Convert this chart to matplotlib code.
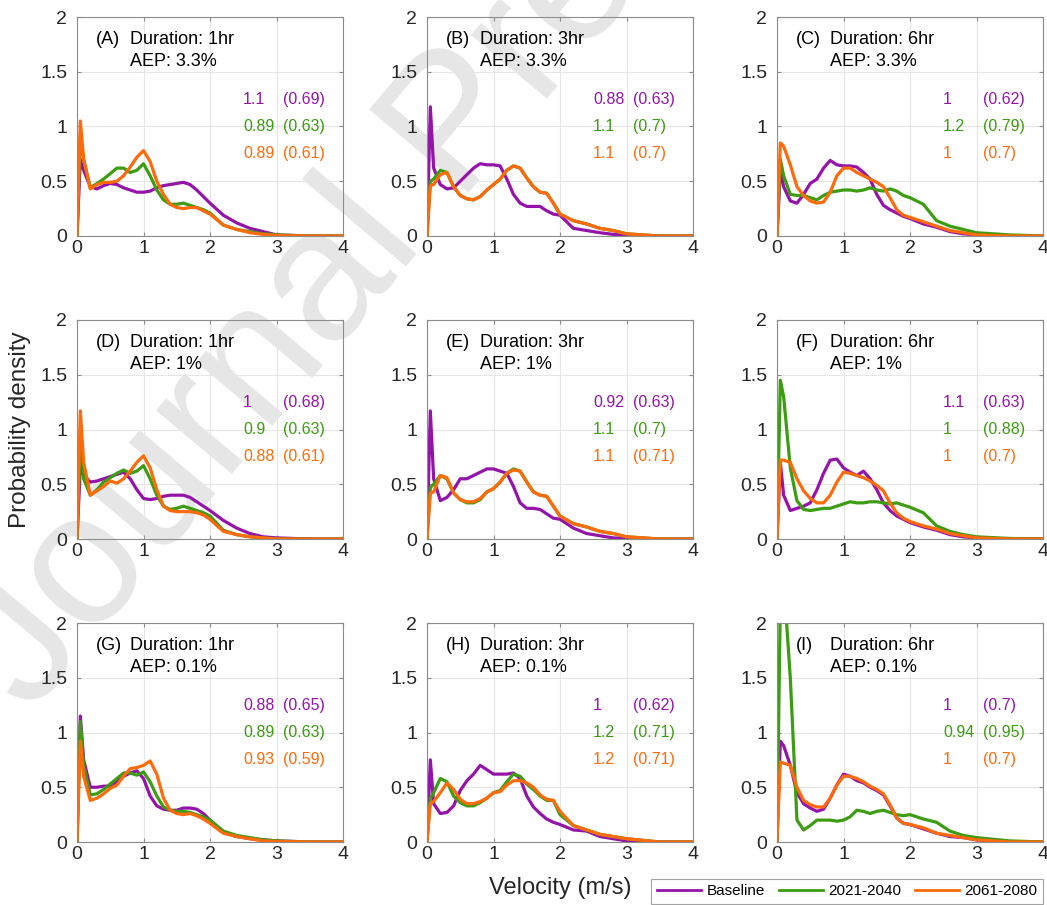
import matplotlib
matplotlib.use("Agg")
import matplotlib.pyplot as plt
from matplotlib.lines import Line2D

plt.rcParams.update({
    "font.family": ["Liberation Sans", "DejaVu Sans"],
    "axes.edgecolor": "#8c8c8c",
    "axes.linewidth": 0.8,
    "xtick.color": "#8c8c8c",
    "ytick.color": "#8c8c8c",
    "xtick.labelcolor": "#262626",
    "ytick.labelcolor": "#262626",
})

PURPLE = "#9414aa"
GREEN = "#3c9c12"
ORANGE = "#ff6a0a"

# velocity grid (m/s) shared by all curves
VEL = [0, 0.05, 0.1, 0.2, 0.3, 0.4, 0.5, 0.6, 0.7, 0.8, 0.9, 1.0, 1.1, 1.2, 1.3,
       1.4, 1.5, 1.6, 1.7, 1.8, 1.9, 2.0, 2.2, 2.4, 2.6, 2.8, 3.0, 3.5, 4.0]

# (A) 1hr, AEP 3.3%
A_BASE = [0, .70, .60, .45, .43, .46, .48, .47, .44, .42, .40, .40, .41, .44, .46,
          .47, .48, .49, .47, .42, .36, .30, .19, .12, .07, .04, .01, 0, 0]
A_2021 = [0, .92, .70, .44, .48, .52, .57, .62, .62, .58, .60, .66, .55, .42, .33,
          .29, .29, .30, .28, .26, .24, .21, .10, .06, .04, .02, .01, 0, 0]
A_2061 = [0, 1.05, .70, .43, .47, .49, .49, .50, .55, .63, .72, .78, .68, .50, .38,
          .29, .26, .25, .26, .26, .23, .20, .10, .06, .03, .015, .005, 0, 0]
# (B) 3hr, AEP 3.3%
B_BASE = [0, 1.18, .62, .47, .43, .44, .50, .56, .62, .66, .65, .65, .64, .52, .38,
          .30, .27, .27, .27, .23, .20, .19, .07, .05, .03, .015, .005, 0, 0]
B_2021 = [0, .50, .52, .60, .58, .45, .37, .34, .33, .36, .42, .47, .52, .60, .64,
          .62, .53, .45, .40, .39, .30, .20, .14, .11, .07, .05, .02, 0, 0]
B_2061 = [0, .46, .47, .56, .58, .45, .37, .34, .33, .36, .42, .47, .52, .60, .64,
          .62, .53, .45, .40, .39, .30, .20, .14, .11, .07, .05, .02, 0, 0]
# (C) 6hr, AEP 3.3%
C_BASE = [0, .60, .45, .32, .30, .38, .48, .52, .62, .69, .65, .64, .64, .63, .58,
          .52, .38, .28, .24, .21, .18, .16, .11, .08, .04, .02, .01, 0, 0]
C_2021 = [0, .70, .55, .38, .37, .37, .35, .33, .37, .40, .41, .42, .42, .41, .42,
          .44, .42, .41, .43, .41, .37, .35, .29, .14, .09, .06, .03, .01, 0]
C_2061 = [0, .85, .82, .65, .45, .37, .32, .30, .31, .40, .55, .62, .62, .58, .55,
          .52, .49, .45, .35, .24, .19, .17, .13, .09, .05, .03, .01, 0, 0]
# (D) 1hr, AEP 1%
D_BASE = [0, .66, .58, .52, .53, .55, .57, .59, .61, .55, .45, .37, .36, .37, .39,
          .40, .40, .40, .38, .34, .30, .26, .17, .10, .05, .02, .01, 0, 0]
D_2021 = [0, .92, .55, .40, .45, .52, .56, .60, .63, .60, .62, .67, .55, .40, .30,
          .27, .28, .30, .28, .26, .24, .21, .08, .04, .02, .01, 0, 0, 0]
D_2061 = [0, 1.17, .70, .40, .44, .48, .53, .51, .55, .62, .70, .76, .65, .45, .30,
          .26, .25, .25, .25, .24, .22, .18, .07, .04, .02, .01, 0, 0, 0]
# (E) 3hr, AEP 1%
E_BASE = [0, 1.17, .55, .35, .38, .45, .55, .55, .58, .61, .64, .64, .62, .60, .48,
          .33, .28, .28, .27, .23, .19, .18, .10, .05, .03, .01, .005, 0, 0]
E_2021 = [0, .47, .50, .58, .55, .42, .36, .33, .33, .36, .43, .46, .52, .60, .64,
          .62, .52, .43, .40, .39, .30, .21, .14, .11, .07, .05, .02, 0, 0]
E_2061 = [0, .42, .43, .58, .56, .42, .36, .34, .34, .37, .43, .46, .52, .60, .63,
          .62, .52, .43, .40, .39, .30, .21, .14, .11, .07, .05, .02, 0, 0]
# (F) 6hr, AEP 1%
F_BASE = [0, .70, .40, .26, .28, .30, .33, .45, .60, .72, .73, .65, .61, .58, .62,
          .55, .45, .33, .26, .21, .18, .15, .11, .08, .04, .02, .01, 0, 0]
F_2021 = [0, 1.45, 1.30, .65, .35, .27, .26, .27, .28, .28, .30, .32, .34, .33, .33,
          .34, .34, .33, .32, .33, .31, .29, .24, .12, .07, .04, .02, .005, 0]
F_2061 = [0, .72, .72, .70, .55, .44, .37, .33, .33, .40, .52, .61, .60, .58, .56,
          .53, .49, .44, .33, .24, .19, .16, .12, .09, .05, .03, .01, 0, 0]
# (G) 1hr, AEP 0.1%
G_BASE = [0, 1.15, .75, .50, .50, .51, .51, .55, .60, .63, .65, .58, .42, .33, .30,
          .29, .29, .31, .31, .30, .26, .20, .09, .05, .03, .02, .01, 0, 0]
G_2021 = [0, 1.10, .70, .43, .44, .48, .53, .58, .63, .63, .61, .64, .55, .42, .32,
          .29, .28, .28, .27, .25, .23, .20, .10, .06, .04, .02, .01, 0, 0]
G_2061 = [0, .92, .60, .38, .40, .44, .49, .52, .60, .67, .68, .70, .74, .62, .40,
          .29, .26, .25, .26, .24, .21, .17, .08, .05, .03, .01, .005, 0, 0]
# (H) 3hr, AEP 0.1%
H_BASE = [0, .75, .35, .26, .27, .33, .47, .56, .62, .70, .66, .62, .62, .62, .63,
          .58, .42, .32, .26, .21, .18, .16, .11, .10, .05, .03, .01, 0, 0]
H_2021 = [0, .40, .45, .58, .55, .42, .36, .33, .33, .36, .40, .45, .47, .55, .62,
          .60, .53, .48, .42, .38, .38, .25, .15, .11, .07, .05, .03, 0, 0]
H_2061 = [0, .35, .37, .45, .54, .48, .39, .35, .35, .37, .40, .45, .46, .52, .56,
          .56, .54, .50, .43, .39, .38, .28, .15, .11, .07, .05, .03, 0, 0]
# (I) 6hr, AEP 0.1%
I_BASE = [0, .92, .88, .70, .45, .35, .31, .28, .30, .40, .52, .62, .60, .56, .54,
          .50, .47, .43, .33, .22, .17, .16, .12, .08, .05, .04, .02, 0, 0]
I_2021 = [0, 2.20, 2.40, 1.50, .20, .11, .15, .20, .20, .20, .19, .20, .23, .29, .28,
          .26, .28, .29, .27, .25, .24, .25, .21, .18, .10, .06, .04, .01, 0]
I_2061 = [0, .73, .72, .70, .50, .38, .34, .32, .32, .40, .52, .60, .60, .58, .55,
          .51, .48, .44, .34, .22, .17, .16, .13, .08, .06, .04, .02, 0, 0]

LETTERS = ["(A)", "(B)", "(C)", "(D)", "(E)", "(F)", "(G)", "(H)", "(I)"]
DURATIONS = ["1hr", "3hr", "6hr"]
AEPS = ["3.3%", "1%", "0.1%"]
SERIES = ["Baseline", "2021-2040", "2061-2080"]

# per-panel numbers: first value and bracketed value for each series
NUM_MAIN = [["1.1", "0.89", "0.89"], ["0.88", "1.1", "1.1"], ["1", "1.2", "1"],
            ["1", "0.9", "0.88"], ["0.92", "1.1", "1.1"], ["1.1", "1", "1"],
            ["0.88", "0.89", "0.93"], ["1", "1.2", "1.2"], ["1", "0.94", "1"]]
NUM_PAREN = [["(0.69)", "(0.63)", "(0.61)"], ["(0.63)", "(0.7)", "(0.7)"],
             ["(0.62)", "(0.79)", "(0.7)"], ["(0.68)", "(0.63)", "(0.61)"],
             ["(0.63)", "(0.7)", "(0.71)"], ["(0.63)", "(0.88)", "(0.7)"],
             ["(0.65)", "(0.63)", "(0.59)"], ["(0.62)", "(0.71)", "(0.71)"],
             ["(0.7)", "(0.95)", "(0.7)"]]

CURVES = [
    (A_BASE, A_2021, A_2061), (B_BASE, B_2021, B_2061), (C_BASE, C_2021, C_2061),
    (D_BASE, D_2021, D_2061), (E_BASE, E_2021, E_2061), (F_BASE, F_2021, F_2061),
    (G_BASE, G_2021, G_2061), (H_BASE, H_2021, H_2061), (I_BASE, I_2021, I_2061),
]
COLORS = [PURPLE, GREEN, ORANGE]

W, H = 1047, 905
fig = plt.figure(figsize=(W / 100, H / 100), dpi=100)

# watermark, drawn underneath transparent axes
fig.text(30 / W, 1 - 715 / H, "Journal Pre-proof", rotation=50, fontsize=135,
         color="#e6e6e6", ha="left", va="baseline", zorder=-5,
         rotation_mode="anchor")

col_left = [77, 427, 777]
row_top = [17, 320, 623]
aw, ah = 266, 219

for k in range(9):
    r, c = divmod(k, 3)
    left = col_left[c] / W
    bottom = 1 - (row_top[r] + ah) / H
    ax = fig.add_axes([left, bottom, aw / W, ah / H])
    ax.set_facecolor("none")
    for ys, col in zip(CURVES[k], COLORS):
        ax.plot(VEL, ys, color=col, lw=2.3, solid_joinstyle="round")
    ax.set_xlim(0, 4)
    ax.set_ylim(0, 2)
    ax.set_xticks([0, 1, 2, 3, 4])
    ax.set_yticks([0, 0.5, 1, 1.5, 2])
    ax.set_xticklabels(["0", "1", "2", "3", "4"])
    ax.set_yticklabels(["0", "0.5", "1", "1.5", "2"])
    ax.tick_params(direction="in", length=3, labelsize=14, top=True, right=True)
    ax.tick_params(axis="x", pad=3)
    ax.tick_params(axis="y", pad=7)
    ax.grid(True, color="#e6e6e6", lw=0.8)
    ax.set_axisbelow(True)

    ax.text(0.28, 1.79, LETTERS[k], fontsize=13, va="center", ha="left")
    ax.text(0.80, 1.79, "Duration: " + DURATIONS[c], fontsize=13, va="center", ha="left")
    ax.text(0.80, 1.59, "AEP: " + AEPS[r], fontsize=13, va="center", ha="left")
    for j, (yv, col) in enumerate(zip([1.25, 1.0, 0.75], COLORS)):
        ax.text(2.5, yv, NUM_MAIN[k][j], color=col, fontsize=11.5, va="center", ha="left")
        ax.text(3.1, yv, NUM_PAREN[k][j], color=col, fontsize=11.5, va="center", ha="left")

fig.text(20 / W, 1 - 430 / H, "Probability density", rotation=90, fontsize=17.5,
         ha="center", va="center", color="#262626")
fig.text(560 / W, 1 - 888 / H, "Velocity (m/s)", fontsize=17, ha="center",
         va="center", color="#262626")

handles = [Line2D([], [], color=col, lw=2) for col in COLORS]
leg = fig.legend(handles, SERIES, ncol=3, loc="upper right",
                 bbox_to_anchor=(1043 / W, 1 - 879 / H), fontsize=11,
                 frameon=True, fancybox=False, edgecolor="#8c8c8c",
                 handlelength=2.9, handletextpad=0.35, columnspacing=0.9,
                 borderpad=0.35, borderaxespad=0)
leg.get_frame().set_linewidth(0.8)

fig.savefig("out.png", dpi=100)
